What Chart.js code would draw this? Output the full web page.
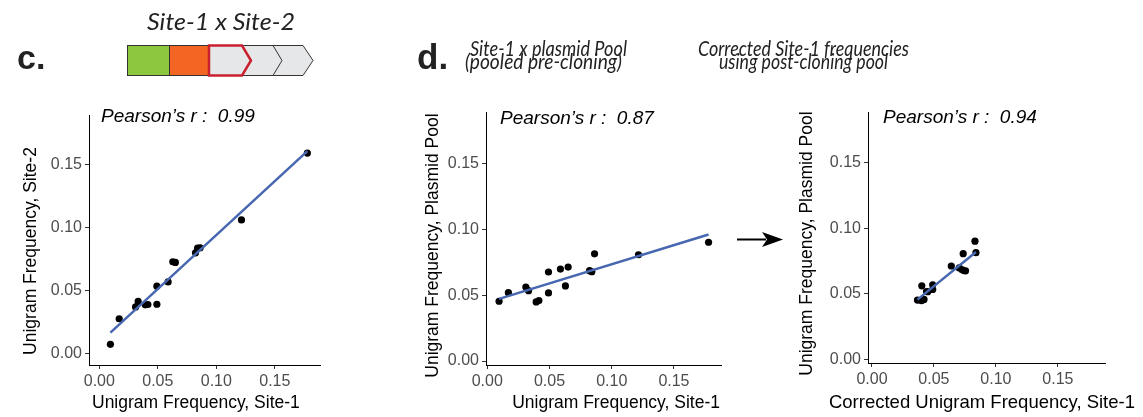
<!DOCTYPE html>
<html>
<head>
<meta charset="utf-8">
<script src="https://cdn.jsdelivr.net/npm/chart.js@4.4.1/dist/chart.umd.min.js"></script>
<style>
  body { margin: 0; background: #fff; }
  #page { position: relative; width: 1143px; height: 417px; overflow: hidden; background: #fff; }
  .panel { position: absolute; top: 100px; height: 317px; }
  #overlay { position: absolute; left: 0; top: 0; pointer-events: none; }
</style>
</head>
<body>
<div id="page">
  <div class="panel" style="left:0;width:330px"><canvas id="chartC"></canvas></div>
  <div class="panel" style="left:400px;width:330px"><canvas id="chartD"></canvas></div>
  <div class="panel" style="left:780px;width:363px"><canvas id="chartE"></canvas></div>
  <svg id="overlay" width="1143" height="417">
    <text x="17" y="69" font-family="Liberation Sans, Arial" font-weight="bold" font-size="34" fill="#222">c.</text>
    <text x="417" y="69" font-family="Liberation Sans, Arial" font-weight="bold" font-size="35" fill="#222">d.</text>

    <text x="147" y="30" font-family="Lato" font-style="italic" font-size="24" fill="#222" textLength="148" lengthAdjust="spacingAndGlyphs">Site-1  x  Site-2</text>
    <text x="470" y="56" font-family="Lato" font-style="italic" font-size="22" fill="#222" textLength="157" lengthAdjust="spacingAndGlyphs">Site-1  x  plasmid Pool</text>
    <text x="465" y="69" font-family="Lato" font-style="italic" font-size="22" fill="#222" textLength="157" lengthAdjust="spacingAndGlyphs">(pooled pre-cloning)</text>
    <text x="698" y="56" font-family="Lato" font-style="italic" font-size="22" fill="#222" textLength="211" lengthAdjust="spacingAndGlyphs">Corrected Site-1  frequencies</text>
    <text x="719" y="69" font-family="Lato" font-style="italic" font-size="22" fill="#222" textLength="169" lengthAdjust="spacingAndGlyphs">using post-cloning pool</text>

    <!-- construct diagram -->
    <polygon points="272,45.5 303,45.5 313,60.5 303,75.5 272,75.5 281,60.5" fill="#e6e7e8" stroke="#333" stroke-width="1"/>
    <polygon points="242,45.5 273,45.5 282,60.5 273,75.5 242,75.5" fill="#e6e7e8" stroke="#333" stroke-width="1"/>
    <rect x="127.5" y="45.5" width="42" height="30" fill="#8dc63f" stroke="#333" stroke-width="1"/>
    <rect x="169.5" y="45.5" width="39" height="30" fill="#f26522" stroke="#333" stroke-width="1"/>
    <polygon points="209,45.5 242,45.5 251,60.5 242,75.5 209,75.5" fill="#e6e7e8" stroke="#c8202f" stroke-width="2.5"/>

    <!-- arrow between panels -->
    <line x1="737" y1="239.5" x2="766" y2="239.5" stroke="#000" stroke-width="2"/>
    <polygon points="762,232 783,239.5 762,247 767,239.5" fill="#000"/>
  </svg>
</div>
<script>
const site1 = [0.0095, 0.017, 0.031, 0.0332, 0.0393, 0.0415, 0.0492, 0.0492, 0.0588, 0.0628, 0.065, 0.0822, 0.084, 0.0862, 0.1215, 0.1778];
const site2 = [0.0071, 0.0274, 0.0368, 0.0411, 0.0384, 0.0387, 0.0389, 0.0532, 0.0566, 0.0726, 0.0721, 0.0797, 0.0834, 0.0837, 0.1058, 0.1588];
const plasmidPool = [0.0454, 0.0519, 0.0562, 0.0534, 0.0449, 0.0459, 0.0517, 0.0676, 0.0698, 0.0570, 0.0713, 0.0686, 0.0678, 0.0814, 0.0807, 0.0902];
const correctedSite1 = [0.0367, 0.044, 0.0402, 0.049, 0.040, 0.042, 0.045, 0.0755, 0.0704, 0.049, 0.064, 0.0725, 0.074, 0.0839, 0.0736, 0.0831];

const tickValues = [0, 0.05, 0.1, 0.15];
const tickLabels = ['0.00', '0.05', '0.10', '0.15'];
const pearsonR = ['0.99', '0.87', '0.94'];

Chart.defaults.font.family = '"Liberation Sans", Arial, sans-serif';
const FONT = '"Liberation Sans", Arial, sans-serif';

// least squares line over the x range, like geom_smooth(method = "lm")
function fitLine(xs, ys) {
  const n = xs.length;
  const mx = xs.reduce((a, b) => a + b, 0) / n;
  const my = ys.reduce((a, b) => a + b, 0) / n;
  let sxy = 0, sxx = 0;
  xs.forEach((x, i) => { sxy += (x - mx) * (ys[i] - my); sxx += (x - mx) * (x - mx); });
  const b = sxy / sxx, a = my - b * mx;
  const lo = Math.min(...xs), hi = Math.max(...xs);
  return [{ x: lo, y: a + b * lo }, { x: hi, y: a + b * hi }];
}

// extra text: pearson label and axis titles, placed relative to the chart area
const panelText = {
  id: 'panelText',
  afterDraw(chart, args, opts) {
    const { ctx, chartArea } = chart;
    (opts.items || []).forEach(it => {
      ctx.save();
      ctx.font = it.font;
      ctx.fillStyle = it.color || '#000';
      ctx.textAlign = it.align || 'left';
      ctx.textBaseline = 'middle';
      const x = it.fromRight ? chartArea.right + it.dx : (it.fromCanvas ? it.dx : chartArea.left + it.dx);
      const y = it.fromBottom ? chart.height - it.dy : chartArea.top + it.dy;
      ctx.translate(x, y);
      if (it.rotate) ctx.rotate(it.rotate);
      ctx.fillText(it.text, 0, 0);
      ctx.restore();
    });
  }
};

function axis(lim, extra) {
  return Object.assign({
    type: 'linear',
    min: lim[0],
    max: lim[1],
    afterBuildTicks: s => { s.ticks = tickValues.map(v => ({ value: v })); },
    ticks: {
      color: '#4d4d4d',
      font: { size: 16 },
      padding: 3,
      autoSkip: false,
      maxRotation: 0,
      callback: v => tickLabels[tickValues.indexOf(v)]
    },
    grid: { drawOnChartArea: false, drawTicks: true, tickLength: 4, color: '#333' },
    border: { display: true, color: '#000', width: 1 },
    title: { display: false }
  }, extra);
}

function makePanel(id, xs, ys, cfg) {
  const pts = xs.map((x, i) => ({ x: x, y: ys[i] }));
  const items = [
    { text: 'Pearson\u2019s r :  ' + cfg.r, font: 'italic 19px ' + FONT, dx: cfg.rx, dy: cfg.ry },
    { text: cfg.yTitle, font: '17.5px ' + FONT, align: 'center', rotate: -Math.PI / 2, fromCanvas: true, dx: cfg.yTx, dy: cfg.yTy },
    Object.assign({ text: cfg.xTitle, color: '#000', fromBottom: true, dy: 14 }, cfg.xT)
  ];
  new Chart(document.getElementById(id), {
    type: 'scatter',
    data: {
      datasets: [
        { type: 'line', data: fitLine(xs, ys), borderColor: '#4767b1', borderWidth: 2.5, pointRadius: 0, fill: false, order: 0 },
        { data: pts, backgroundColor: '#000', borderWidth: 0, pointRadius: 3.6, order: 1 }
      ]
    },
    options: {
      responsive: true,
      maintainAspectRatio: false,
      animation: false,
      events: [],
      layout: { padding: { top: cfg.top, right: cfg.right, left: 0, bottom: 0 } },
      plugins: { legend: { display: false }, tooltip: { enabled: false }, panelText: { items: items } },
      scales: {
        x: axis(cfg.xlim, { afterFit: s => { s.height = cfg.xH; } }),
        y: axis(cfg.ylim, { afterFit: s => { s.width = cfg.yW; } })
      }
    },
    plugins: [panelText]
  });
}

makePanel('chartC', site1, site2, {
  r: pearsonR[0], rx: 12, ry: 2,
  xlim: [-0.0088, 0.1886], ylim: [-0.0093, 0.189],
  top: 15, right: 10, xH: 52, yW: 89,
  yTitle: 'Unigram Frequency, Site-2', yTx: 31, yTy: 136,
  xTitle: 'Unigram Frequency, Site-1',
  xT: { font: '17.5px ' + FONT, align: 'left', dx: 3 }
});

makePanel('chartD', site1, plasmidPool, {
  r: pearsonR[1], rx: 14, ry: 6,
  xlim: [-0.001, 0.1878], ylim: [-0.003, 0.1886],
  top: 12, right: 9, xH: 52, yW: 86,
  yTitle: 'Unigram Frequency, Plasmid Pool', yTx: 33, yTy: 133,
  xTitle: 'Unigram Frequency, Site-1',
  xT: { font: '17.5px ' + FONT, align: 'right', fromRight: true, dx: -1 }
});

makePanel('chartE', correctedSite1, plasmidPool, {
  r: pearsonR[2], rx: 15, ry: 5,
  xlim: [-0.0032, 0.188], ylim: [-0.0025, 0.188],
  top: 12, right: 38, xH: 54, yW: 88,
  yTitle: 'Unigram Frequency, Plasmid Pool', yTx: 27, yTy: 131,
  xTitle: 'Corrected Unigram Frequency, Site-1',
  xT: { font: '18.5px ' + FONT, align: 'right', fromRight: true, dx: 30 }
});
</script>
</body>
</html>
